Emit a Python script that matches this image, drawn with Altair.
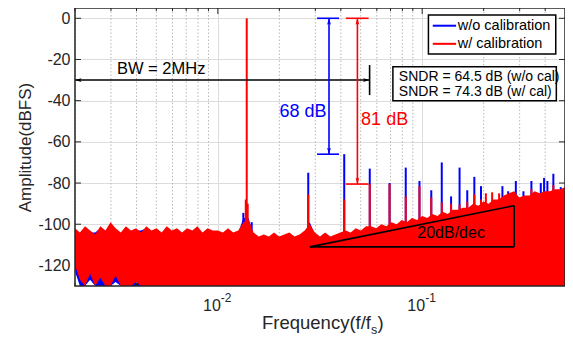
import altair as alt
import pandas as pd

FONT = "Liberation Sans"

# ---------------- noise floor envelopes (f/fs, dBFS) ----------------
FREQ = [
    0.002, 0.002113, 0.002239, 0.002371, 0.002512, 0.002661, 0.002818, 0.002985, 0.003162, 0.00335,
    0.003548, 0.003758, 0.003981, 0.004217, 0.004467, 0.004732, 0.005012, 0.005309, 0.005623, 0.005957,
    0.00631, 0.006683, 0.007079, 0.007499, 0.007943, 0.008414, 0.008913, 0.009441,
    0.01, 0.01059, 0.01122, 0.01189, 0.01259, 0.01334, 0.01413, 0.01496, 0.01585, 0.01679,
    0.01778, 0.01884, 0.01995, 0.02113, 0.02239, 0.02371, 0.02512, 0.02661, 0.02818, 0.02985,
    0.03162, 0.0335, 0.03548, 0.03758, 0.03981, 0.04217, 0.04467, 0.04732, 0.05012, 0.05309,
    0.05623, 0.05957, 0.0631, 0.06683, 0.07079, 0.07499, 0.07943, 0.08414, 0.08913, 0.09441,
    0.1, 0.1059, 0.1122, 0.1189, 0.1259, 0.1334, 0.1413, 0.1496, 0.1585, 0.1679,
    0.1778, 0.1884, 0.1995, 0.2113, 0.2239, 0.2371, 0.2512, 0.2661, 0.2818, 0.2985,
    0.3162, 0.335, 0.3548, 0.3758, 0.3981, 0.4217, 0.4467, 0.4732, 0.5,
]
RED_TOP = [
    -102, -104, -101, -103, -105, -101, -103, -99, -102, -104,
    -101, -103, -102, -104, -101, -103, -102, -104, -101, -103,
    -102, -104, -102, -103, -101, -104, -102, -103,
    -103, -104, -102, -104, -103, -99, -98, -104, -106, -105,
    -106, -104, -106, -105, -104, -106, -105, -103, -100, -104,
    -106, -104, -106, -105, -104, -103, -104, -102, -103, -101,
    -101, -102, -100, -101, -99, -100, -98, -99, -97, -98,
    -96, -97, -95, -96, -94, -95, -93, -93, -92, -92,
    -90, -91, -89, -90, -88, -88, -86, -85, -84, -87,
    -86, -86, -84, -85, -84, -84, -83, -83, -82,
]
RED_BOTTOM = [
    -120, -127, -130, -124, -130, -126, -130, -130, -125, -130,
    -130, -130, -128, -130, -130, -130, -130, -130, -130, -130,
    -130, -130, -130, -130, -130, -130, -130, -130,
    -130, -130, -130, -130, -130, -130, -130, -130, -130, -130,
    -130, -130, -130, -130, -130, -130, -130, -130, -130, -130,
    -130, -130, -130, -130, -130, -130, -130, -130, -130, -130,
    -130, -130, -130, -130, -130, -130, -130, -130, -130, -130,
    -130, -130, -130, -130, -130, -130, -130, -130, -130, -130,
    -130, -130, -130, -130, -130, -130, -130, -130, -130, -130,
    -130, -130, -130, -130, -130, -130, -130, -130, -130,
]
BLUE_TOP = [
    -103, -105, -102, -104, -104, -102, -104, -100, -103, -105,
    -102, -104, -103, -103, -102, -104, -103, -105, -102, -104,
    -103, -105, -103, -104, -102, -105, -103, -104,
    -104, -105, -103, -105, -104, -97, -97, -105, -107, -106,
    -107, -105, -107, -106, -105, -107, -106, -104, -99, -105,
    -107, -105, -107, -106, -105, -104, -105, -103, -104, -102,
    -102, -103, -101, -102, -100, -101, -99, -100, -98, -99,
    -97, -98, -96, -97, -95, -96, -94, -94, -93, -93,
    -91, -92, -90, -91, -89, -89, -87, -86, -85, -88,
    -87, -87, -85, -86, -85, -85, -84, -84, -83,
]
BLUE_BOTTOM = [
    -123, -130, -130, -127, -130, -130, -130, -130, -128, -130,
    -130, -130, -130, -130, -130, -130, -130, -130, -130, -130,
    -130, -130, -130, -130, -130, -130, -130, -130,
    -130, -130, -130, -130, -130, -130, -130, -130, -130, -130,
    -130, -130, -130, -130, -130, -130, -130, -130, -130, -130,
    -130, -130, -130, -130, -130, -130, -130, -130, -130, -130,
    -130, -130, -130, -130, -130, -130, -130, -130, -130, -130,
    -130, -130, -130, -130, -130, -130, -130, -130, -130, -130,
    -130, -130, -130, -130, -130, -130, -130, -130, -130, -130,
    -130, -130, -130, -130, -130, -130, -130, -130, -130,
]

# ---------------- spurs ----------------
BLUE_SPUR_F = [0.01333, 0.01465, 0.0277, 0.04155, 0.0554, 0.06925, 0.0831, 0.097, 0.1108, 0.1247,
               0.1385, 0.1524, 0.1662, 0.18, 0.194, 0.247, 0.2636, 0.2873, 0.313, 0.3424,
               0.3806, 0.395, 0.41, 0.4385, 0.4766]
BLUE_SPUR_DB = [-94.5, -99, -75, -66, -73, -80, -72.5, -79, -83.5, -70,
                -86.5, -72.5, -83.5, -77, -81.5, -81.5, -84, -79, -84, -79,
                -80, -77.5, -79, -75.5, -82]
RED_SPUR_F = [0.01385, 0.0137, 0.0140, 0.0277, 0.04155, 0.0554, 0.06925, 0.0831, 0.097, 0.1108,
              0.1247, 0.1385, 0.1524, 0.1662, 0.18, 0.194, 0.205, 0.22, 0.238, 0.3424, 0.4385]
RED_SPUR_DB = [0, -88, -90, -85.5, -88, -80.5, -80.5, -86.5, -81.5, -87,
               -89.5, -90, -90.5, -89, -85.5, -88, -85, -84.5, -85, -83, -81]

# ---------------- axes ----------------
Y_TICKS = [-120, -100, -80, -60, -40, -20, 0]
X_MAJOR = [0.01, 0.1]
X_MINOR = [0.002, 0.003, 0.004, 0.005, 0.006, 0.007, 0.008, 0.009,
           0.02, 0.03, 0.04, 0.05, 0.06, 0.07, 0.08, 0.09, 0.2, 0.3, 0.4]
X_BASE = ["10", "10"]
X_EXP = ["-2", "-1"]

# ---------------- annotations ----------------
SEG_F1 = [0.002, 0.0553, 0.035, 0.0306, 0.0306, 0.0482, 0.0423, 0.0423, 0.0282, 0.282, 0.0282]
SEG_F2 = [0.0553, 0.0553, 0.035, 0.0392, 0.0392, 0.0482, 0.0547, 0.0547, 0.282, 0.282, 0.282]
SEG_D1 = [-30, -22.7, 0, 0, -66, 0, 0, -80.5, -111, -111, -111]
SEG_D2 = [-30, -37.3, -66, 0, -66, -80.5, 0, -80.5, -111, -91, -91]
SEG_COLOR = ["black", "black", "#0000ff", "#0000ff", "#0000ff", "#ff0000", "#ff0000", "#ff0000",
             "black", "black", "black"]

HEAD_F = [0.002, 0.0553, 0.035, 0.035, 0.0482, 0.0482]
HEAD_DB = [-30, -30, 0, -66, 0, -80.5]
HEAD_DIR = ["left", "right", "up", "down", "up", "down"]
HEAD_COLOR = ["black", "black", "#0000ff", "#0000ff", "#ff0000", "#ff0000"]

CTEXT = ["BW = 2MHz", "68 dB", "81 dB", "20dB/dec"]
CTEXT_F = [0.00528, 0.0261, 0.0655, 0.1385]
CTEXT_DB = [-24.4, -45.3, -49.3, -104.3]
CTEXT_COLOR = ["black", "#0000ff", "#ff0000", "black"]
CTEXT_SIZE = [16.5, 18, 18, 16]

BOX_F1 = [0.1073, 0.0719]
BOX_F2 = [0.4505, 0.4535]
BOX_D1 = [1.6, -23.5]
BOX_D2 = [-17.3, -40]

LTEXT = ["SNDR = 64.5 dB (w/o cal)", "SNDR = 74.3 dB (w/ cal)", "w/o calibration", "w/ calibration"]
LTEXT_F = [0.0769, 0.0769, 0.1493, 0.1493]
LTEXT_DB = [-28.3, -35.6, -3.6, -12.4]
LTEXT_SIZE = [14, 14, 14.5, 14.5]

LEG_F1 = [0.1127, 0.1127]
LEG_F2 = [0.1466, 0.1466]
LEG_DB = [-3.6, -12.4]
LEG_COLOR = ["#0000ff", "#ff0000"]

# ---------------- chart ----------------
GRAY = "#262626"
xs = alt.Scale(type="log", domain=[0.002, 0.5], nice=False)
ys = alt.Scale(domain=[-130, 5], nice=False, zero=False)
XA = alt.Axis(values=X_MAJOR, grid=True, labels=False, ticks=False, domain=False, title=None,
              gridColor="#dcdcdc", gridWidth=1)
YA = alt.Axis(values=Y_TICKS, grid=True, ticks=False, domain=False,
              labelExpr="'' + datum.value", labelFontSize=16, labelPadding=5, labelColor=GRAY,
              title="Amplitude(dBFS)", titleFontSize=17, titleFontWeight="normal", titleColor=GRAY,
              titlePadding=3, gridColor="#dcdcdc", gridWidth=1)


def X(field):
    return alt.X(field, scale=xs, axis=XA)


def Y(field):
    return alt.Y(field, scale=ys, axis=YA)


noise = pd.DataFrame({"f": FREQ, "rt": RED_TOP, "rb": RED_BOTTOM, "bt": BLUE_TOP, "bb": BLUE_BOTTOM})

blue_area = alt.Chart(noise).mark_area(color="#0000ff", clip=True).encode(
    x=X("f:Q"), y=Y("bt:Q"), y2="bb:Q")
red_area = alt.Chart(noise).mark_area(color="#ff0000", clip=True).encode(
    x=X("f:Q"), y=Y("rt:Q"), y2="rb:Q")

minor_grid = alt.Chart(pd.DataFrame({"f": X_MINOR})).mark_rule(
    color="#b8b8b8", strokeDash=[1.5, 2], strokeWidth=1).encode(x=X("f:Q"))

major_df = pd.DataFrame({"f": X_MAJOR})
minor_df = pd.DataFrame({"f": X_MINOR})
yt_df = pd.DataFrame({"d": Y_TICKS})


def xticks(df, y0, y1):
    return alt.Chart(df).mark_rule(color=GRAY, strokeWidth=1).encode(
        x=X("f:Q"), y=alt.value(y0), y2=alt.value(y1))


def yticks(x0, x1):
    return alt.Chart(yt_df).mark_rule(color=GRAY, strokeWidth=1).encode(
        y=Y("d:Q"), x=alt.value(x0), x2=alt.value(x1))


tick_layers = [xticks(major_df, 0, 6), xticks(major_df, 278, 272), xticks(minor_df, 0, 3),
               xticks(minor_df, 278, 275), yticks(0, 6), yticks(490, 484)]

bs = pd.DataFrame({"f": BLUE_SPUR_F, "d": BLUE_SPUR_DB})
rs = pd.DataFrame({"f": RED_SPUR_F, "d": RED_SPUR_DB})
blue_spurs = alt.Chart(bs).mark_rule(color="#0000ff", strokeWidth=2, clip=True).encode(
    x=X("f:Q"), y=Y("d:Q"), y2=alt.datum(-118))
red_spurs = alt.Chart(rs).mark_rule(color="#ff0000", strokeWidth=2, clip=True).encode(
    x=X("f:Q"), y=Y("d:Q"), y2=alt.datum(-118))

seg = pd.DataFrame({"f1": SEG_F1, "f2": SEG_F2, "d1": SEG_D1, "d2": SEG_D2, "c": SEG_COLOR})
segments = alt.Chart(seg).mark_rule(strokeWidth=1.6).encode(
    x=X("f1:Q"), x2="f2:Q", y=Y("d1:Q"), y2="d2:Q", color=alt.Color("c:N", scale=None))

heads = pd.DataFrame({"f": HEAD_F, "d": HEAD_DB, "dir": HEAD_DIR, "c": HEAD_COLOR})
head_paths = ["M0,0L2,-0.6L1.6,0L2,0.6Z", "M0,0L-2,-0.6L-1.6,0L-2,0.6Z",
              "M0,0L-0.6,2L0,1.6L0.6,2Z", "M0,0L-0.6,-2L0,-1.6L0.6,-2Z"]
arrow_heads = alt.Chart(heads).mark_point(filled=True, size=42, opacity=1, strokeWidth=0).encode(
    x=X("f:Q"), y=Y("d:Q"),
    shape=alt.Shape("dir:N", scale=alt.Scale(domain=["left", "right", "up", "down"], range=head_paths),
                    legend=None),
    color=alt.Color("c:N", scale=None))

ct = pd.DataFrame({"t": CTEXT, "f": CTEXT_F, "d": CTEXT_DB, "c": CTEXT_COLOR, "s": CTEXT_SIZE})
ctexts = alt.Chart(ct).mark_text(align="center", baseline="middle", font=FONT).encode(
    x=X("f:Q"), y=Y("d:Q"), text="t:N",
    color=alt.Color("c:N", scale=None), size=alt.Size("s:Q", scale=None))

boxes = alt.Chart(pd.DataFrame({"f1": BOX_F1, "f2": BOX_F2, "d1": BOX_D1, "d2": BOX_D2})).mark_rect(
    fill="white", stroke="black", strokeWidth=1.5).encode(
    x=X("f1:Q"), x2="f2:Q", y=Y("d1:Q"), y2="d2:Q")

lt = pd.DataFrame({"t": LTEXT, "f": LTEXT_F, "d": LTEXT_DB, "s": LTEXT_SIZE})
ltexts = alt.Chart(lt).mark_text(align="left", baseline="middle", font=FONT, color="black").encode(
    x=X("f:Q"), y=Y("d:Q"), text="t:N", size=alt.Size("s:Q", scale=None))

leg = pd.DataFrame({"f1": LEG_F1, "f2": LEG_F2, "d": LEG_DB, "c": LEG_COLOR})
leg_lines = alt.Chart(leg).mark_rule(strokeWidth=2).encode(
    x=X("f1:Q"), x2="f2:Q", y=Y("d:Q"), color=alt.Color("c:N", scale=None))

xl = pd.DataFrame({"f": X_MAJOR, "b": X_BASE, "e": X_EXP})
xbase = alt.Chart(xl).mark_text(align="right", baseline="middle", dx=3, fontSize=16, color=GRAY,
                                font=FONT).encode(x=X("f:Q"), y=alt.value(297.5), text="b:N")
xexp = alt.Chart(xl).mark_text(align="left", baseline="middle", dx=3, fontSize=12, color=GRAY,
                               font=FONT).encode(x=X("f:Q"), y=alt.value(290), text="e:N")

one = pd.DataFrame({"a": [0]})
xt1 = alt.Chart(one).mark_text(align="right", baseline="middle", fontSize=18.5, color=GRAY, font=FONT,
                               text="Frequency(f/f").encode(x=alt.value(296), y=alt.value(315))
xt2 = alt.Chart(one).mark_text(align="left", baseline="middle", fontSize=12.5, color=GRAY, font=FONT,
                               text="s").encode(x=alt.value(296), y=alt.value(322))
xt3 = alt.Chart(one).mark_text(align="left", baseline="middle", fontSize=18.5, color=GRAY, font=FONT,
                               text=")").encode(x=alt.value(302.5), y=alt.value(315))

frame = alt.Chart(one).mark_rect(fillOpacity=0, stroke=GRAY, strokeWidth=1.5).encode(
    x=alt.value(0), x2=alt.value(490), y=alt.value(0), y2=alt.value(278))

chart = alt.layer(
    blue_area, minor_grid, *tick_layers, blue_spurs, red_area, red_spurs,
    segments, arrow_heads, ctexts, boxes, ltexts, leg_lines,
    xbase, xexp, xt1, xt2, xt3, frame,
).properties(
    width=490, height=278,
    autosize=alt.AutoSizeParams(type="none"),
    padding={"left": 67, "top": 0, "right": 0, "bottom": 50},
).configure(font=FONT).configure_view(stroke=None)

chart.save("out.html", embed_options={"renderer": "svg", "actions": False})
